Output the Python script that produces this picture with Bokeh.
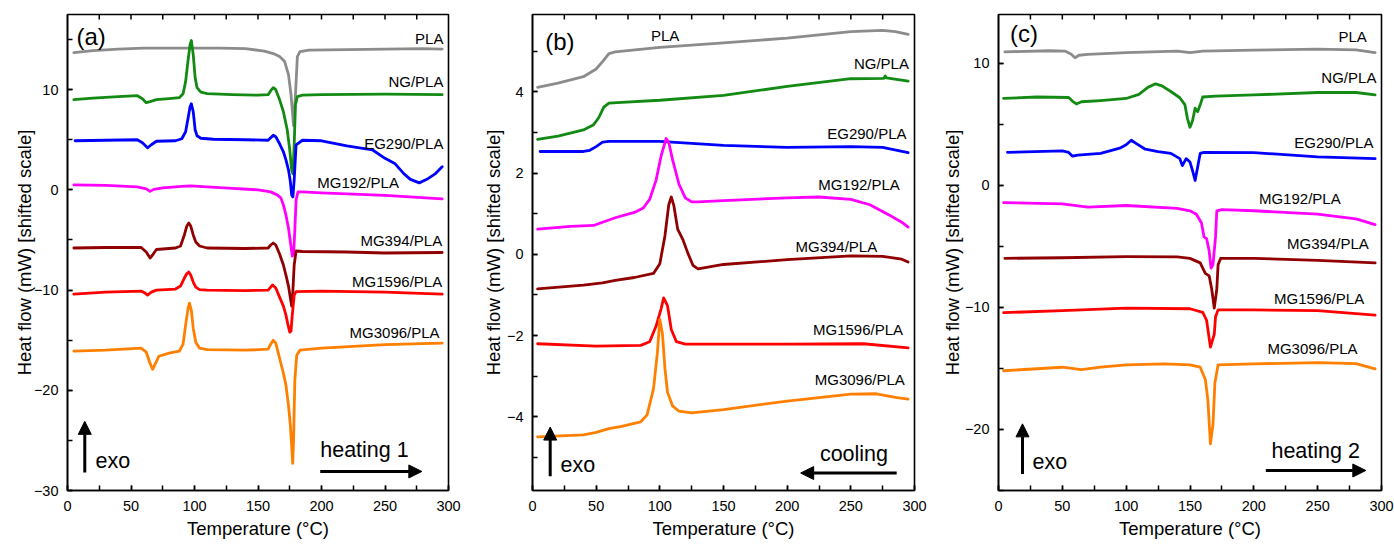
from bokeh.plotting import figure
from bokeh.layouts import row
from bokeh.models import (ColumnDataSource, Range1d, SingleIntervalTicker,
                          Arrow, NormalHead, Label)
from bokeh.core.properties import value
from bokeh.embed import file_html
from bokeh.resources import INLINE

FONT = "Liberation Sans"
names = ["PLA", "NG/PLA", "EG290/PLA", "MG192/PLA", "MG394/PLA", "MG1596/PLA", "MG3096/PLA"]
colors = ["#8c8c8c", "#138a13", "#0000ff", "#ff00ff", "#900000", "#ff0000", "#ff8000"]
x_title = "Temperature (°C)"
y_title = "Heat flow (mW) [shifted scale]"

# ---------------- panel (a) heating 1 ----------------
a_pla_x = [5, 20, 40, 60, 80, 100, 120, 140, 155, 162, 167, 171, 174, 176, 178, 179.5, 181, 183, 190, 220, 250, 280, 295]
a_pla_y = [13.7, 13.9, 14.05, 14.15, 14.15, 14.15, 14.15, 14.1, 13.85, 13.6, 13.3, 12.8, 11.5, 9.5, 6.4, 9.5, 13.3, 13.8, 13.95, 14.0, 14.05, 14.1, 14.05]
a_ng_x = [5, 20, 40, 55, 59, 62, 65, 70, 80, 88, 91, 93, 95, 96.5, 97.5, 99, 100.5, 102, 105, 110, 130, 150, 158, 160, 162, 164, 167, 170, 173, 175, 176.5, 177.5, 178.5, 179.5, 181, 185, 200, 250, 295]
a_ng_y = [9.0, 9.15, 9.3, 9.4, 9.1, 8.7, 8.8, 9.0, 9.1, 9.2, 9.6, 10.8, 13.0, 14.5, 14.9, 13.5, 11.2, 10.2, 9.75, 9.6, 9.5, 9.45, 9.5, 9.9, 10.2, 10.0, 9.0, 7.8, 6.0, 4.0, 2.0, 1.6, 4.5, 8.5, 9.3, 9.45, 9.5, 9.55, 9.5]
a_eg_x = [6, 30, 55, 59, 63, 66, 70, 85, 90, 93, 95, 96.5, 97.5, 99, 100.5, 102, 105, 115, 140, 158, 160, 162, 164, 167, 170, 172, 174, 175.5, 176.5, 177.5, 178.5, 180, 185, 200, 210, 220, 230, 240, 250, 258, 265, 270, 277, 283, 290, 295]
a_eg_y = [4.9, 4.95, 5.0, 4.7, 4.2, 4.5, 4.85, 4.9, 5.1, 5.8, 7.2, 8.3, 8.6, 7.8, 6.0, 5.4, 5.15, 5.05, 5.0, 4.95, 5.2, 5.45, 5.3, 4.6, 3.8, 3.0, 2.0, 0.8, -0.5, -0.7, 1.0, 4.5, 4.95, 4.9, 4.65, 4.4, 4.2, 4.0, 3.15, 2.6, 1.6, 1.05, 0.7, 1.05, 1.65, 2.3]
a_mg192_x = [5, 30, 55, 62, 65, 68, 75, 90, 97, 110, 130, 150, 160, 165, 168, 170, 172, 174, 175.5, 177, 178, 179, 180, 181.5, 185, 200, 250, 295]
a_mg192_y = [0.5, 0.45, 0.3, 0.1, -0.15, 0.05, 0.2, 0.35, 0.4, 0.3, 0.15, 0.0, -0.2, -0.5, -0.8, -1.5, -2.5, -3.8, -5.2, -6.6, -6.5, -4.0, -1.0, -0.2, -0.2, -0.3, -0.55, -0.9]
a_mg394_x = [5, 30, 58, 62, 65, 67, 70, 85, 89, 92, 94, 95.5, 97, 99, 101, 104, 110, 140, 158, 160, 162, 164, 167, 170, 172, 174, 175.5, 176.5, 177.5, 178.5, 180, 185, 220, 250, 295]
a_mg394_y = [-5.8, -5.75, -5.75, -6.2, -6.8, -6.5, -5.95, -5.8, -5.6, -4.5, -3.6, -3.3, -3.6, -4.5, -5.2, -5.6, -5.8, -5.85, -5.8, -5.5, -5.3, -5.5, -6.4, -7.5, -8.5, -9.6, -10.8, -11.6, -10.0, -7.5, -6.1, -6.15, -6.2, -6.3, -6.25]
a_mg1596_x = [5, 30, 58, 61, 63, 66, 70, 85, 89, 92, 94, 95.5, 97, 99, 101, 104, 110, 140, 158, 160, 161.5, 164, 167, 170, 172, 173.5, 175, 176, 177, 178.5, 180, 200, 250, 295]
a_mg1596_y = [-10.4, -10.2, -10.1, -10.3, -10.5, -10.2, -10.0, -9.9, -9.6, -8.8, -8.35, -8.2, -8.5, -9.2, -9.7, -9.95, -10.0, -10.05, -10.0, -9.7, -9.5, -9.8, -10.7, -11.6, -12.5, -13.4, -14.2, -14.1, -12.5, -10.5, -10.15, -10.1, -10.2, -10.4]
a_mg3096_x = [5, 30, 58, 62, 65, 67, 69, 72, 80, 88, 91, 93, 95, 96, 97.5, 99, 101, 104, 110, 140, 158, 160, 162, 164, 166, 168, 170, 172, 174, 175.5, 176.5, 177.3, 178, 179, 180.5, 183, 200, 250, 295]
a_mg3096_y = [-16.1, -16.0, -15.8, -16.2, -17.3, -17.9, -17.4, -16.6, -16.3, -16.1, -15.4, -13.5, -11.8, -11.3, -12.0, -13.8, -15.2, -15.8, -15.95, -16.0, -15.9, -15.4, -15.0, -15.3, -16.3, -17.3, -18.3, -19.5, -21.5, -23.5, -25.5, -27.3, -25.0, -19.0, -16.5, -16.0, -15.8, -15.45, -15.3]

# ---------------- panel (b) cooling ----------------
b_pla_x = [4, 20, 40, 50, 55, 60, 65, 100, 150, 200, 250, 275, 285, 295]
b_pla_y = [4.11, 4.21, 4.37, 4.56, 4.74, 4.94, 4.98, 5.09, 5.2, 5.32, 5.48, 5.51, 5.48, 5.41]
b_ng_x = [4, 20, 40, 48, 52, 56, 60, 70, 100, 150, 200, 250, 276, 277, 278, 295]
b_ng_y = [2.83, 2.91, 3.06, 3.19, 3.36, 3.62, 3.72, 3.74, 3.79, 3.91, 4.13, 4.32, 4.33, 4.39, 4.34, 4.26]
b_eg_x = [6, 40, 45, 50, 55, 60, 100, 150, 200, 250, 275, 295]
b_eg_y = [2.53, 2.53, 2.56, 2.65, 2.76, 2.78, 2.78, 2.68, 2.63, 2.65, 2.63, 2.5]
b_mg192_x = [4, 30, 48, 55, 65, 80, 87, 92, 97, 101, 105, 107, 110, 115, 120, 125, 130, 150, 200, 225, 250, 265, 280, 290, 295]
b_mg192_y = [0.62, 0.69, 0.71, 0.79, 0.9, 1.03, 1.14, 1.35, 1.82, 2.42, 2.85, 2.75, 2.33, 1.73, 1.39, 1.29, 1.29, 1.32, 1.39, 1.41, 1.35, 1.22, 0.97, 0.79, 0.67]
b_mg394_x = [4, 40, 55, 65, 80, 95, 100, 104, 107, 109, 111, 114, 118, 122, 126, 130, 150, 200, 250, 275, 290, 295]
b_mg394_y = [-0.85, -0.76, -0.7, -0.64, -0.57, -0.47, -0.23, 0.45, 1.22, 1.41, 1.2, 0.62, 0.37, 0.03, -0.27, -0.36, -0.25, -0.13, -0.04, -0.05, -0.12, -0.19]
b_mg1596_x = [4, 50, 85, 92, 97, 101, 103, 106, 109, 113, 120, 150, 200, 260, 295]
b_mg1596_y = [-2.2, -2.26, -2.24, -2.15, -1.77, -1.34, -1.07, -1.26, -1.85, -2.15, -2.21, -2.21, -2.21, -2.2, -2.3]
b_mg3096_x = [4, 40, 50, 60, 70, 85, 90, 95, 98, 100, 102, 104, 106, 110, 115, 125, 150, 200, 250, 270, 285, 295]
b_mg3096_y = [-4.49, -4.44, -4.38, -4.29, -4.23, -4.12, -3.95, -3.31, -2.45, -1.6, -1.94, -2.8, -3.39, -3.73, -3.86, -3.9, -3.82, -3.61, -3.44, -3.43, -3.52, -3.56]

# ---------------- panel (c) heating 2 ----------------
c_pla_x = [5, 40, 52, 57, 60, 63, 70, 100, 140, 150, 160, 200, 250, 280, 295]
c_pla_y = [10.94, 11.03, 11.0, 10.74, 10.46, 10.66, 10.74, 10.88, 11.0, 10.88, 11.0, 11.08, 11.17, 11.1, 10.88]
c_ng_x = [4, 30, 55, 58, 61, 65, 80, 100, 110, 117, 123, 128, 135, 142, 146, 148, 150, 152, 154, 156, 158, 160, 170, 200, 250, 280, 295]
c_ng_y = [7.12, 7.24, 7.2, 6.89, 6.67, 6.85, 6.95, 7.12, 7.46, 8.03, 8.32, 8.15, 7.69, 7.18, 6.61, 5.47, 4.76, 5.3, 6.32, 6.04, 6.6, 7.24, 7.32, 7.41, 7.61, 7.61, 7.41]
c_eg_x = [7, 50, 55, 58, 62, 80, 95, 100, 104, 108, 115, 125, 135, 142, 144, 147, 150, 152, 154, 156, 158, 161, 200, 250, 295]
c_eg_y = [2.71, 2.82, 2.7, 2.39, 2.48, 2.62, 3.05, 3.33, 3.7, 3.42, 2.96, 2.76, 2.62, 2.19, 1.62, 2.19, 1.91, 1.2, 0.4, 1.5, 2.62, 2.71, 2.68, 2.34, 2.19]
c_mg192_x = [4, 50, 70, 100, 140, 150, 155, 159, 161, 163, 165, 166.5, 168, 170, 171, 175, 200, 250, 280, 295]
c_mg192_y = [-1.42, -1.51, -1.79, -1.65, -1.88, -2.08, -2.36, -3.08, -4.22, -4.36, -5.36, -6.78, -6.5, -4.22, -2.08, -1.99, -2.08, -2.36, -2.74, -3.22]
c_mg394_x = [5, 50, 100, 140, 150, 158, 162, 165, 167, 169, 171, 172, 174, 200, 250, 295]
c_mg394_y = [-5.98, -5.93, -5.84, -5.86, -5.98, -6.35, -7.21, -7.41, -8.49, -10.06, -8.49, -6.5, -5.98, -5.98, -6.15, -6.35]
c_mg1596_x = [4, 50, 100, 150, 160, 163, 166, 169, 170, 172, 200, 250, 295]
c_mg1596_y = [-10.43, -10.26, -10.06, -10.11, -10.4, -11.05, -13.25, -12.2, -10.77, -10.2, -10.2, -10.26, -10.63]
c_mg3096_x = [4, 50, 65, 80, 100, 130, 150, 158, 162, 164, 166, 168, 169.5, 172, 200, 250, 280, 295]
c_mg3096_y = [-15.19, -14.9, -15.1, -14.9, -14.7, -14.62, -14.7, -14.9, -15.9, -17.6, -21.17, -19.6, -16.2, -14.7, -14.62, -14.53, -14.6, -15.04]

# curve-label anchors (right edge x, centre y)
a_lab_x = [296, 296, 296, 261, 295, 295, 293]
a_lab_y = [15.1, 10.8, 4.6, 0.7, -5.1, -9.1, -14.2]
b_lab_x = [93, 295.6, 293.7, 288.5, 270.7, 291, 292.4]
b_lab_y = [5.38, 4.7, 2.97, 1.71, 0.2, -1.84, -3.09]
c_lab_x = [288.5, 296, 293.7, 268, 290, 286.4, 281.2]
c_lab_y = [12.22, 8.83, 3.48, -1.08, -4.79, -9.26, -13.33]

x_tick_step = 25
FRAME_H = 476
TICK_PX = 5

panels = [
    dict(tag="(a)", tag_pos=(7, 15.3), yr=(-30, 17.5), ymaj=10,
         curves=[(a_pla_x, a_pla_y), (a_ng_x, a_ng_y), (a_eg_x, a_eg_y), (a_mg192_x, a_mg192_y),
                 (a_mg394_x, a_mg394_y), (a_mg1596_x, a_mg1596_y), (a_mg3096_x, a_mg3096_y)],
         lab=(a_lab_x, a_lab_y), first_left=False,
         exo=(13.6, -28.2, -23.1, 22, -27.1), mode="heating 1", mode_pos=(199, -26.0),
         harrow=(199, 279, -28.1),
         width=470, bl=67, br=22, ystand=-4),
    dict(tag="(b)", tag_pos=(10, 5.24), yr=(-5.81, 5.9), ymaj=2,
         curves=[(b_pla_x, b_pla_y), (b_ng_x, b_ng_y), (b_eg_x, b_eg_y), (b_mg192_x, b_mg192_y),
                 (b_mg394_x, b_mg394_y), (b_mg1596_x, b_mg1596_y), (b_mg3096_x, b_mg3096_y)],
         lab=(b_lab_x, b_lab_y), first_left=True,
         exo=(13.9, -5.46, -4.25, 22, -5.19), mode="cooling", mode_pos=(225.7, -4.91),
         harrow=(286, 210.6, -5.38),
         width=465, bl=62, br=21, ystand=0),
    dict(tag="(c)", tag_pos=(9, 12.45), yr=(-25, 14), ymaj=10,
         curves=[(c_pla_x, c_pla_y), (c_ng_x, c_ng_y), (c_eg_x, c_eg_y), (c_mg192_x, c_mg192_y),
                 (c_mg394_x, c_mg394_y), (c_mg1596_x, c_mg1596_y), (c_mg3096_x, c_mg3096_y)],
         lab=(c_lab_x, c_lab_y), first_left=False,
         exo=(18.8, -23.65, -19.54, 26.6, -22.7), mode="heating 2", mode_pos=(213.8, -21.8),
         harrow=(209.4, 287.7, -23.36),
         width=459, bl=63, br=13, ystand=-1),
]

figs = []
for pd in panels:
    ymin, ymax = pd["yr"]
    p = figure(width=pd["width"], height=545, output_backend="svg", toolbar_location=None,
               x_range=Range1d(0, 300), y_range=Range1d(ymin, ymax),
               min_border_left=pd["bl"], min_border_right=pd["br"],
               min_border_top=14, min_border_bottom=55,
               x_axis_label=x_title, y_axis_label=y_title)
    p.grid.visible = False
    p.outline_line_color = "black"
    p.outline_line_width = 1.6
    p.outline_line_alpha = 1
    p.background_fill_color = "white"
    p.border_fill_color = "white"

    p.xaxis.ticker = SingleIntervalTicker(interval=50, num_minor_ticks=2)
    p.yaxis.ticker = SingleIntervalTicker(interval=pd["ymaj"], num_minor_ticks=2)
    for ax in (p.xaxis[0], p.yaxis[0]):
        ax.major_tick_in = TICK_PX
        ax.major_tick_out = 0
        ax.minor_tick_in = TICK_PX
        ax.minor_tick_out = 0
        ax.major_tick_line_width = 1.5
        ax.minor_tick_line_width = 1.5
        ax.axis_line_width = 1.6
        ax.major_label_text_font = FONT
        ax.major_label_text_font_size = "14.5px"
        ax.major_label_text_color = "black"
        ax.axis_label_text_font = FONT
        ax.axis_label_text_font_size = "18.5px"
        ax.axis_label_text_font_style = "normal"
        ax.axis_label_text_color = "black"
    p.xaxis.major_label_standoff = 10
    p.xaxis.axis_label_standoff = 4
    p.yaxis.major_label_standoff = 9
    p.yaxis.axis_label_standoff = pd["ystand"]

    # mirrored ticks along the top edge of the frame
    dpp = (ymax - ymin) / FRAME_H
    top_ticks = list(range(x_tick_step, 300, x_tick_step))
    dy = TICK_PX * dpp
    p.segment(x0=top_ticks, y0=[ymax] * len(top_ticks), x1=top_ticks, y1=[ymax - dy] * len(top_ticks),
              line_color="black", line_width=1.5)

    for (xs, ys), c in zip(pd["curves"], colors):
        p.line(xs, ys, line_color=c, line_width=2.8, line_join="round", line_cap="round")

    lx, ly = pd["lab"]
    if pd["first_left"]:
        src_l = ColumnDataSource(dict(x=lx[:1], y=ly[:1], t=names[:1]))
        p.text("x", "y", "t", source=src_l, text_align="left", text_baseline="middle",
               text_font=value(FONT), text_font_size="15px", text_color="black")
        src_r = ColumnDataSource(dict(x=lx[1:], y=ly[1:], t=names[1:]))
    else:
        src_r = ColumnDataSource(dict(x=lx, y=ly, t=names))
    p.text("x", "y", "t", source=src_r, text_align="right", text_baseline="middle",
           text_font=value(FONT), text_font_size="15px", text_color="black")

    tx, ty = pd["tag_pos"]
    p.add_layout(Label(x=tx, y=ty, text=pd["tag"], text_font=FONT, text_font_size="24px",
                       text_baseline="middle", text_align="left", text_color="black"))

    ex, ey0, ey1, etx, ety = pd["exo"]
    p.add_layout(Arrow(end=NormalHead(size=13, fill_color="black", line_color="black"),
                       x_start=ex, y_start=ey0, x_end=ex, y_end=ey1,
                       line_width=3, line_color="black"))
    p.add_layout(Label(x=etx, y=ety, text="exo", text_font=FONT, text_font_size="21.5px",
                       text_baseline="middle", text_align="left", text_color="black"))
    mx, my = pd["mode_pos"]
    p.add_layout(Label(x=mx, y=my, text=pd["mode"], text_font=FONT, text_font_size="21.5px",
                       text_baseline="middle", text_align="left", text_color="black"))
    hx0, hx1, hy = pd["harrow"]
    p.add_layout(Arrow(end=NormalHead(size=13, fill_color="black", line_color="black"),
                       x_start=hx0, y_start=hy, x_end=hx1, y_end=hy,
                       line_width=3, line_color="black"))
    figs.append(p)

layout = row(*figs)
open("out.html", "w").write(file_html(layout, INLINE))
